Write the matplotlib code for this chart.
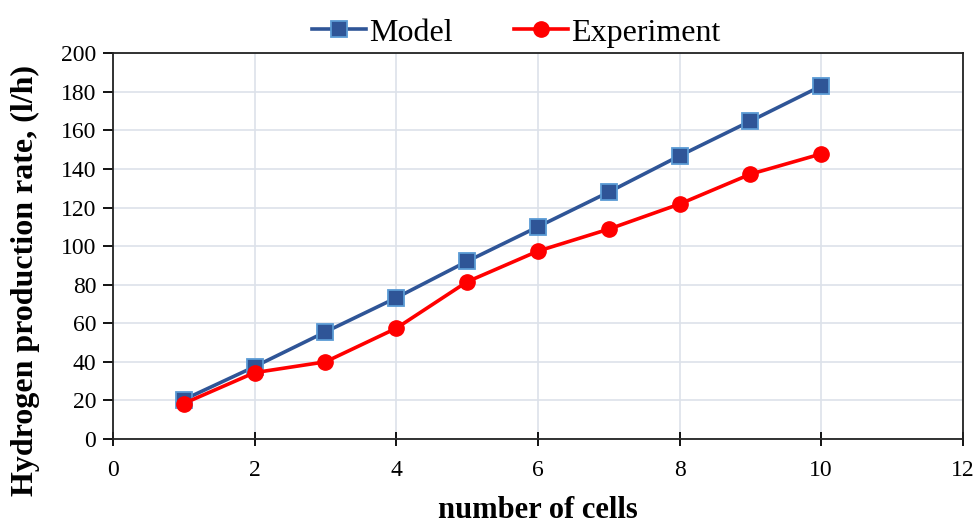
import matplotlib.pyplot as plt

plt.rcParams['font.family'] = ['Liberation Serif', 'DejaVu Serif']

cells = [1, 2, 3, 4, 5, 6, 7, 8, 9, 10]
model = [20.4, 37.5, 55.5, 73.2, 92.1, 110, 128, 146.8, 164.8, 183]
experiment = [18.4, 34.4, 40, 57.4, 81.5, 97.4, 108.8, 121.8, 137.3, 147.8]

x_ticks = [0, 2, 4, 6, 8, 10, 12]
y_ticks = list(range(0, 201, 20))

fig = plt.figure(figsize=(9.78, 5.27), dpi=100)
ax = fig.add_axes([0.1155, 0.167, 0.869, 0.732])

ax.plot(cells, model, color='#2F5597', lw=2.6, marker='s', markersize=11.5,
        markerfacecolor='#2F5597', markeredgecolor='#5B9BD5', markeredgewidth=1.3,
        label='Model', zorder=3)
ax.plot(cells, experiment, color='#FF0000', lw=2.6, marker='o', markersize=11,
        markerfacecolor='#FF0000', markeredgecolor='#FF0000',
        label='Experiment', zorder=4)

ax.set_xlim(0, 12)
ax.set_ylim(0, 200)
ax.set_xticks(x_ticks)
ax.set_yticks(y_ticks)
ax.grid(True, color='#DDE2EA', lw=1.2)
ax.set_axisbelow(True)

for s in ax.spines.values():
    s.set_color('#222222')
    s.set_linewidth(1.3)

ax.tick_params(axis='y', direction='out', length=7, width=1.3, labelsize=17, pad=5)
ax.tick_params(axis='x', direction='inout', length=10, width=1.3, labelsize=17, pad=10)

ax.set_xlabel('number of cells', fontsize=22, fontweight='bold')
ax.xaxis.set_label_coords(0.5, -0.148)
ax.set_ylabel('Hydrogen production rate, (l/h)', fontsize=23, fontweight='bold')
ax.yaxis.set_label_coords(-0.086, 0.41)

fig.legend(loc='upper center', bbox_to_anchor=(0.528, 1.02), ncol=2, frameon=False,
           fontsize=23, handlelength=1.7, columnspacing=1.9, handletextpad=0.1)

fig.savefig('out.png', dpi=100)
